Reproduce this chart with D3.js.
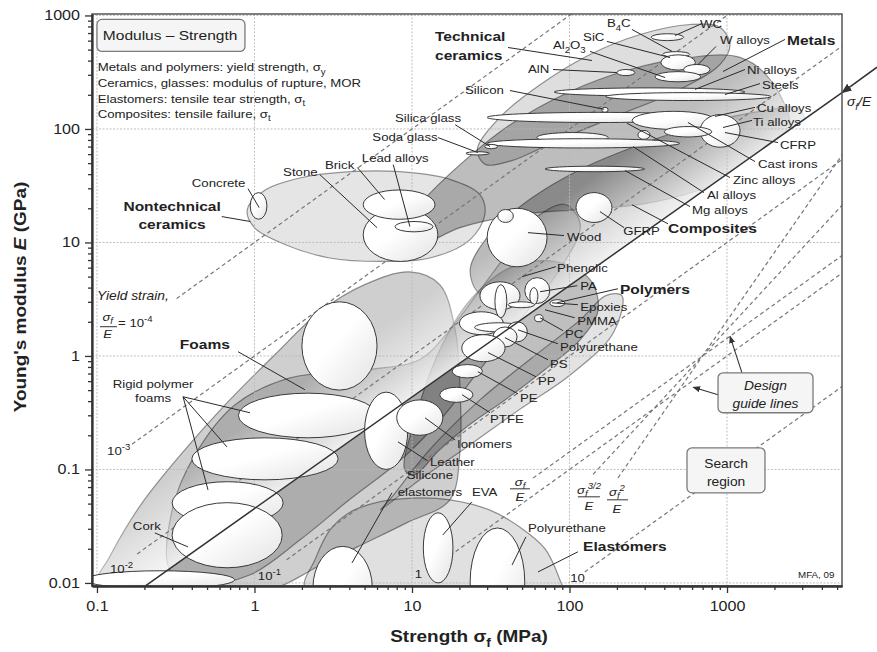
<!DOCTYPE html>
<html>
<head>
<meta charset="utf-8">
<script src="https://cdn.jsdelivr.net/npm/d3@7"></script>
<style>
body { margin: 0; background: #fff; }
svg text { font-family: "Liberation Sans", Arial, Helvetica, sans-serif; fill: #222; }
</style>
</head>
<body>
<svg id="chart" width="877" height="652"></svg>
<script>
//* Modulus - strength chart *//

// axis ticks
const X_TICKS = [0.1, 1, 10, 100, 1000];
const X_TICK_LABELS = ["0.1", "1", "10", "100", "1000"];
const Y_TICKS = [0.01, 0.1, 1, 10, 100, 1000];
const Y_TICK_LABELS = ["0.01", "0.1", "1", "10", "100", "1000"];

// material bubbles: name, strength min, max (MPa), modulus min, max (GPa)
const MATERIALS = [
  ["WC", 330, 530, 600, 690],
  ["B4C", 390, 580, 430, 480],
  ["SiC", 380, 630, 330, 450],
  ["W alloys", 530, 780, 300, 370],
  ["Al2O3", 350, 680, 260, 320],
  ["AlN", 200, 260, 295, 334],
  ["Silicon", 160, 176, 140, 155],
  ["Ni alloys", 80, 1300, 195, 230],
  ["Steels", 170, 1900, 178, 209],
  ["Cu alloys", 30, 780, 114, 140],
  ["Ti alloys", 250, 840, 99, 143],
  ["CFRP", 675, 1210, 69, 134],
  ["Cast irons", 400, 800, 85, 105],
  ["Zinc alloys", 62, 176, 76, 93],
  ["", 272, 324, 81, 97],
  ["Al alloys", 30, 500, 68, 82],
  ["Mg alloys", 70, 300, 42, 47],
  ["Silica glass", 29, 35, 67, 73],
  ["Soda glass", 22, 31, 59, 63],
  ["GFRP", 110, 186, 15, 27.5],
  ["Wood", 30, 72, 6.1, 20],
  ["", 35, 44, 15, 19.5],
  ["Stone", 4.9, 14.6, 6.8, 20],
  ["Brick", 4.9, 14, 16, 29],
  ["Lead alloys", 7.8, 13.6, 12.4, 15.3],
  ["Concrete", 0.94, 1.2, 16, 27.5],
  ["", 2.0, 6.0, 0.5, 3.0],
  ["Rigid foam 1", 0.79, 6.0, 0.19, 0.47],
  ["Rigid foam 2", 0.4, 3.4, 0.081, 0.19],
  ["Rigid foam 3", 0.3, 1.52, 0.033, 0.078],
  ["Cork", 0.3, 1.5, 0.0136, 0.051],
  ["", 0.084, 0.75, 0.0089, 0.0128],
  ["Leather", 5, 9.4, 0.1, 0.48],
  ["Ionomers", 8, 15.7, 0.2, 0.41],
  ["Phenolic", 27, 48.5, 2.55, 4.5],
  ["", 52, 75, 2.9, 4.9],
  ["", 20, 38, 1.54, 2.45],
  ["", 33.6, 40, 2.17, 4.25],
  ["PA", 56, 63, 2.83, 4.0],
  ["", 40.7, 60, 2.66, 3.0],
  ["Epoxies", 75, 93.5, 2.72, 3.13],
  ["PC", 60, 68, 2.0, 2.31],
  ["PMMA", 25, 50.7, 1.63, 1.96],
  ["Polyurethane", 40, 54, 1.33, 2.0],
  ["PS", 32.7, 46.5, 1.2, 1.8],
  ["PP", 20.7, 39, 0.89, 1.54],
  ["PE", 18, 28, 0.64, 0.84],
  ["PTFE", 15, 24.4, 0.39, 0.53],
  ["Silicone elastomers", 2.35, 5.6, 0.0039, 0.021],
  ["EVA", 11.8, 18.2, 0.01, 0.0415],
  ["Polyurethane elastomer", 23.4, 52, 0.0034, 0.0305],
];

// family envelopes, [strength, modulus] outline points
const NONTECH_CERAMICS = [[0.9,19.5],[1.17,29],[1.94,37],[4.04,42],[8.4,42],[17.4,36],[27,26.4],[29,17.6],[23.4,10.6],[13,7.3],[6.3,6.8],[3.0,7.3],[1.56,9.6],[1.0,13.5]];
const TECH_CERAMICS = [[26,66],[36,126],[65,245],[135,453],[281,680],[582,832],[904,783],[1045,555],[904,370],[504,223],[209,134],[87,81],[42,52],[29,49]];
const FOAMS = [[0.097,0.009],[0.121,0.0173],[0.19,0.049],[0.34,0.135],[0.65,0.37],[1.35,1.03],[2.6,2.45],[5.0,4.25],[9.7,5.5],[15,4.25],[18.8,1.7],[20.2,0.5],[20.2,0.149],[17.4,0.054],[9.3,0.034],[4.5,0.0208],[2.5,0.0138],[1.25,0.0087],[0.45,0.0087],[0.19,0.0083]];
const NATURAL = [[0.29,0.013],[0.3,0.044],[0.42,0.135],[0.75,0.37],[1.68,0.64],[5.4,0.76],[11.2,0.93],[17.4,1.7],[27,3.8],[42,8.6],[65,17.6],[94,21.6],[117,14.4],[87,5.8],[48.5,2.08],[27,0.76],[15,0.27],[8.4,0.12],[4.0,0.054],[1.95,0.024],[0.94,0.0118],[0.45,0.0097]];
const POLYMERS_OUTER = [[7.2,0.054],[13,0.15],[27,0.41],[56,0.93],[117,2.08],[170,3.4],[215,3.4],[190,1.6],[101,0.68],[48.5,0.34],[23.4,0.165],[11.2,0.081],[6.3,0.044]];
const POLYMERS = [[9.0,0.099],[10.4,0.27],[15,1.13],[23.4,3.1],[42,6.0],[81,6.8],[135,4.7],[152,2.55],[117,1.39],[70,0.76],[39,0.41],[23.4,0.25],[15,0.15],[10.4,0.09]];
const COMPOSITES = [[23.4,5.8],[31,11.7],[56,24],[117,44],[281,73],[675,109],[1620,143],[2910,148],[2910,54],[904,19.5],[281,7.8],[117,3.8],[48.5,3.1],[27,3.5]];
const METALS = [[7.8,10.6],[11.2,21.6],[20.2,48.5],[42,109],[101,214],[242,334],[582,427],[1210,427],[1875,273],[2510,99],[1620,48.5],[675,29],[281,21.6],[117,19.5],[48.5,17.6],[20.2,13.5],[11.2,9.6]];
const ELASTOMERS = [[2.09,0.009],[2.42,0.016],[3.0,0.029],[4.04,0.042],[6.3,0.052],[10.1,0.056],[17.4,0.054],[31,0.044],[48.5,0.031],[70,0.02],[87,0.0106],[94,0.0072],[60,0.005],[5,0.005]];

// sigma_f/E limit line with arrow outside the frame
const LIMIT_LINE = [[0.2, 0.0093], [5370, 209], [8960, 350]];

// yield strain lines: strain, strength where the dashes start
const STRAINS = [1e-4, 1e-3, 1e-2, 1e-1, 1, 10];
const STRAIN_START = [0.32, 0.167, 0.18, 1.6, 12.5, 125];
const STRAIN_LABELS = [["10^{-3}", 0.116, 0.135], ["10^{-2}", 0.121, 0.0122], ["10^{-1}", 1.05, 0.0106], ["1", 10.4, 0.0111], ["10", 101, 0.0102]];

// design guide lines E = (sigma/700)^n through the pivot
const GUIDE_PIVOT = [700, 1];
const GUIDE_EXP = [1, 1.5, 2];
const GUIDE_START = [58.7, 141, 203];

// labels: text, strength, modulus, kind, anchor, leader (s0, E0, s1, E1)
const LABELS = [
  ["Concrete", 0.40, 31, "m", "start", 0.91, 29.8, 1.07, 20.3],
  ["Nontechnical", 0.30, 19.1, "b", "middle", 0.62, 16.9, 0.94, 15.3],
  ["ceramics", 0.30, 13.2, "b", "middle"],
  ["Stone", 1.52, 38.8, "m", "start", 2.6, 39.6, 6.0, 13.5],
  ["Brick", 2.8, 44.8, "m", "start", 4.5, 45.7, 6.7, 23.9],
  ["Lead alloys", 4.8, 51.6, "m", "start", 7.6, 48.5, 9.7, 13.8],
  ["Silica glass", 7.8, 116, "m", "start", 18.8, 109, 31.3, 70],
  ["Soda glass", 5.6, 79, "m", "start", 14.6, 84, 26.2, 62],
  ["Silicon", 21.7, 205, "m", "start", 41.9, 218, 166, 149],
  ["AlN", 54.5, 314, "m", "start", 78.5, 334, 200, 314],
  ["Al_{2}O_{3}", 78.5, 502, "m", "start", 135, 482, 404, 284],
  ["SiC", 122, 590, "m", "start", 173, 590, 435, 426],
  ["B_{4}C", 173, 785, "m", "start", 249, 753, 448, 482],
  ["WC", 674, 769, "m", "start", 694, 849, 468, 666],
  ["W alloys", 903, 566, "m", "start", 851, 533, 655, 370],
  ["Metals", 2404, 545, "b", "start", 2336, 615, 944, 321],
  ["Technical", 14, 590, "b", "start", 40.7, 522, 139, 401],
  ["ceramics", 14, 401, "b", "start"],
  ["Ni alloys", 1340, 302, "m", "start", 1301, 334, 626, 223],
  ["Steels", 1667, 227, "m", "start", 1620, 251, 971, 201],
  ["Cu alloys", 1549, 140, "m", "start", 1506, 155, 839, 129],
  ["Ti alloys", 1462, 107, "m", "start", 1442, 119, 944, 103],
  ["CFRP", 2170, 67.2, "m", "start", 2108, 75.9, 971, 93],
  ["Cast irons", 1574, 45.7, "m", "start", 1506, 51.6, 565, 114],
  ["Zinc alloys", 1092, 33, "m", "start", 1045, 37.3, 232, 112],
  ["Al alloys", 746, 24.3, "m", "start", 714, 27.5, 253, 70],
  ["Mg alloys", 600, 17.9, "m", "start", 582, 20.7, 225, 43],
  ["Composites", 422, 12.2, "b", "start", 422, 14.6, 249, 21.5],
  ["GFRP", 219, 11.7, "m", "start", 222, 13.5, 156, 18.7],
  ["Wood", 96.4, 10.2, "m", "start", 92.3, 11.5, 54.5, 12.2],
  ["Phenolic", 83.4, 5.53, "m", "start", 82, 6.12, 49.9, 4.99],
  ["PA", 117, 3.84, "m", "start", 112, 4.16, 65, 3.68],
  ["Polymers", 209, 3.53, "b", "start", 203, 3.91, 83.4, 2.94],
  ["Epoxies", 117, 2.5, "m", "start", 113, 2.83, 77.4, 2.94],
  ["PMMA", 112, 1.88, "m", "start", 108, 2.17, 69.9, 2.55],
  ["PC", 93.6, 1.45, "m", "start", 91, 1.67, 65, 2.17],
  ["Polyurethane", 87, 1.11, "m", "start", 84.5, 1.28, 47.1, 1.7],
  ["PS", 75.2, 0.787, "m", "start", 73, 0.925, 38.9, 1.45],
  ["PP", 63.1, 0.557, "m", "start", 61.3, 0.656, 30.4, 1.07],
  ["PE", 48.5, 0.395, "m", "start", 47.1, 0.464, 26.2, 0.726],
  ["PTFE", 31.3, 0.258, "m", "start", 31.3, 0.316, 20.8, 0.455],
  ["Ionomers", 19.3, 0.155, "m", "start", 18.8, 0.182, 12.1, 0.285],
  ["Leather", 13, 0.108, "m", "start", 12.6, 0.119, 8.15, 0.175],
  ["Silicone", 13, 0.0826, "m", "middle", 7.46, 0.0622, 4.16, 0.015],
  ["elastomers", 13, 0.0585, "m", "middle"],
  ["EVA", 24, 0.0585, "m", "start", 24, 0.0518, 15.7, 0.0265],
  ["Polyurethane", 54.5, 0.0282, "m", "start", 52.9, 0.0255, 43.2, 0.0144],
  ["Elastomers", 122, 0.0191, "b", "start", 113, 0.0188, 63.1, 0.0125],
  ["Foams", 0.336, 1.16, "b", "start", 0.786, 1.09, 2.09, 0.504],
  ["Rigid polymer", 0.227, 0.525, "m", "middle", 0.352, 0.437, 0.936, 0.316],
  ["foams", 0.227, 0.395, "m", "middle", 0.352, 0.437, 0.669, 0.158],
  ["Cork", 0.169, 0.0293, "m", "start", 0.233, 0.0276, 0.378, 0.0208],
];
const EXTRA_LEADERS = [[0.352, 0.437, 0.507, 0.066]];

const NOTE_LINES = [
  "Metals and polymers: yield strength, σ_{y}",
  "Ceramics, glasses: modulus of rupture, MOR",
  "Elastomers: tensile tear strength, σ_{t}",
  "Composites: tensile failure, σ_{t}",
];
const NOTE_BASE = [321, 232, 171, 126];

const SX = 1.15;   // the reference type is a bit wide

const svg = d3.select('#chart');
const x = d3.scaleLog().domain([0.093, 5370]).range([92, 842]);
const y = d3.scaleLog().domain([0.0094, 1030]).range([586, 14]);
const L = x.range()[0], R = x.range()[1], T = y.range()[1], B = y.range()[0];

const defs = svg.append('defs');
defs.append('clipPath').attr('id', 'plotClip')
  .append('rect').attr('x', L).attr('y', T).attr('width', R - L).attr('height', B - T);

// half plane above the sigma_f/E line
const limitE = s => LIMIT_LINE[0][1] * Math.pow(s / LIMIT_LINE[0][0],
  Math.log10(LIMIT_LINE[1][1] / LIMIT_LINE[0][1]) / Math.log10(LIMIT_LINE[1][0] / LIMIT_LINE[0][0]));
const p1 = [x(0.01), y(limitE(0.01))], p2 = [x(1e5), y(limitE(1e5))];
defs.append('clipPath').attr('id', 'aboveClip')
  .append('polygon').attr('points', [p1, p2, [p2[0], -5000], [p1[0], -5000]].map(p => p.join(',')).join(' '));

// white sheen along the limit line
const a0 = [x(LIMIT_LINE[0][0]), y(LIMIT_LINE[0][1])], a1 = [x(LIMIT_LINE[1][0]), y(LIMIT_LINE[1][1])];
const len = Math.hypot(a1[0] - a0[0], a1[1] - a0[1]);
const nrm = [(a1[1] - a0[1]) / len, -(a1[0] - a0[0]) / len];   // points up-left
const sheen = defs.append('linearGradient').attr('id', 'sheen').attr('gradientUnits', 'userSpaceOnUse')
  .attr('x1', a0[0]).attr('y1', a0[1]).attr('x2', a0[0] + nrm[0] * 75).attr('y2', a0[1] + nrm[1] * 75);
sheen.append('stop').attr('offset', 0).attr('stop-color', '#fff').attr('stop-opacity', 0.8);
sheen.append('stop').attr('offset', 1).attr('stop-color', '#fff').attr('stop-opacity', 0);

const bub = defs.append('linearGradient').attr('id', 'bub').attr('x1', 0).attr('y1', 0).attr('x2', 1).attr('y2', 1);
bub.append('stop').attr('offset', 0.45).attr('stop-color', '#fff');
bub.append('stop').attr('offset', 1).attr('stop-color', '#e2e2e2');

defs.append('marker').attr('id', 'arr').attr('viewBox', '0 0 10 10').attr('refX', 9).attr('refY', 5)
  .attr('markerWidth', 7).attr('markerHeight', 7).attr('orient', 'auto-start-reverse')
  .append('path').attr('d', 'M0,1 L10,5 L0,9 z').attr('fill', '#333');

// rich text: _{sub} and ^{sup}
function rich(t, str, fs) {
  const parts = str.split(/(_\{[^}]*\}|\^\{[^}]*\})/).filter(p => p);
  let shift = 0;
  parts.forEach(p => {
    let target = 0, txt = p, size = null;
    if (p.startsWith('_{')) { target = fs * 0.3; txt = p.slice(2, -1); size = fs * 0.72; }
    else if (p.startsWith('^{')) { target = -fs * 0.42; txt = p.slice(2, -1); size = fs * 0.72; }
    const ts = t.append('tspan').attr('dy', target - shift).text(txt);
    if (size) ts.attr('font-size', size);
    shift = target;
  });
}

function addText(g, px, py, str, o = {}) {
  const fs = o.size || 11.5;
  const t = g.append('text')
    .attr('transform', `translate(${px},${py})${o.rotate ? ' rotate(' + o.rotate + ')' : ''} scale(${SX},1)`)
    .attr('font-size', fs)
    .attr('font-weight', o.bold ? 'bold' : null)
    .attr('font-style', o.italic ? 'italic' : null)
    .attr('text-anchor', o.anchor || 'start');
  rich(t, str, fs);
  return t;
}

function frac(g, s, eNum, eBar, eDen, s0, s1, num, den) {
  addText(g, x(s), y(eNum), num, {size: 11.5, italic: true, anchor: 'middle'});
  g.append('line').attr('x1', x(s0)).attr('x2', x(s1)).attr('y1', y(eBar)).attr('y2', y(eBar))
    .attr('stroke', '#333').attr('stroke-width', 1);
  addText(g, x(s), y(eDen), den, {size: 11.5, italic: true, anchor: 'middle'});
}

// envelopes
const plot = svg.append('g').attr('clip-path', 'url(#plotClip)');
const outline = d3.line().x(d => x(d[0])).y(d => y(d[1])).curve(d3.curveCatmullRomClosed.alpha(0.5));

function envelope(g, pts, alpha) {
  g.append('path').attr('d', outline(pts))
    .attr('fill', `rgba(0,0,0,${alpha})`)
    .attr('stroke', 'rgba(0,0,0,0.4)').attr('stroke-width', 1.2);
}

const env = plot.append('g');
envelope(env, NONTECH_CERAMICS, 0.10);
envelope(env, FOAMS, 0.19);
envelope(env, NATURAL, 0.16);
envelope(env, POLYMERS_OUTER, 0.11);
envelope(env, POLYMERS, 0.25);
const envAbove = env.append('g').attr('clip-path', 'url(#aboveClip)');
envelope(envAbove, TECH_CERAMICS, 0.13);
envelope(envAbove, METALS, 0.26);
envelope(envAbove, COMPOSITES, 0.27);
envAbove.append('rect').attr('x', L).attr('y', T).attr('width', R - L).attr('height', B - T)
  .attr('fill', 'url(#sheen)');
envelope(env, ELASTOMERS, 0.12);

// grid
const grid = plot.append('g').attr('stroke', '#b9b9b9').attr('stroke-width', 0.9).attr('stroke-dasharray', '2,1.5');
grid.selectAll('.gx').data(X_TICKS).join('line')
  .attr('x1', d => x(d)).attr('x2', d => x(d)).attr('y1', T).attr('y2', B);
grid.selectAll('.gy').data(Y_TICKS).join('line')
  .attr('y1', d => y(d)).attr('y2', d => y(d)).attr('x1', L).attr('x2', R);

// strain guide lines
const guides = plot.append('g').attr('stroke', '#777').attr('stroke-width', 1.2)
  .attr('stroke-dasharray', '4,3').attr('fill', 'none');
STRAINS.forEach((eps, i) => {
  const s0 = STRAIN_START[i], s1 = 1e5;
  guides.append('line')
    .attr('x1', x(s0)).attr('y1', y(s0 / (1000 * eps)))
    .attr('x2', x(s1)).attr('y2', y(s1 / (1000 * eps)));
});
GUIDE_EXP.forEach((n, i) => {
  const eAt = s => GUIDE_PIVOT[1] * Math.pow(s / GUIDE_PIVOT[0], n);
  const s0 = GUIDE_START[i], s1 = 1e5;
  guides.append('line')
    .attr('x1', x(s0)).attr('y1', y(eAt(s0)))
    .attr('x2', x(s1)).attr('y2', y(eAt(s1)));
});

// material bubbles
plot.append('g').selectAll('ellipse').data(MATERIALS).join('ellipse')
  .attr('cx', d => (x(d[1]) + x(d[2])) / 2)
  .attr('cy', d => (y(d[3]) + y(d[4])) / 2)
  .attr('rx', d => (x(d[2]) - x(d[1])) / 2)
  .attr('ry', d => (y(d[3]) - y(d[4])) / 2)
  .attr('fill', 'url(#bub)').attr('stroke', '#3a3a3a').attr('stroke-width', 1);

// sigma_f/E limit line
svg.append('line')
  .attr('x1', x(LIMIT_LINE[0][0])).attr('y1', y(LIMIT_LINE[0][1]))
  .attr('x2', x(LIMIT_LINE[1][0])).attr('y2', y(LIMIT_LINE[1][1]))
  .attr('stroke', '#333').attr('stroke-width', 1.5);
svg.append('line')
  .attr('x1', x(LIMIT_LINE[2][0])).attr('y1', y(LIMIT_LINE[2][1]))
  .attr('x2', x(LIMIT_LINE[1][0])).attr('y2', y(LIMIT_LINE[1][1]))
  .attr('stroke', '#333').attr('stroke-width', 1.5).attr('marker-end', 'url(#arr)');
addText(svg, x(5780), y(158), "σ_{f}/E", {size: 12, italic: true});

// leaders and labels
const ann = svg.append('g');
const leaders = ann.append('g').attr('stroke', '#2a2a2a').attr('stroke-width', 1);
LABELS.filter(d => d.length > 5).forEach(d => {
  leaders.append('line').attr('x1', x(d[5])).attr('y1', y(d[6])).attr('x2', x(d[7])).attr('y2', y(d[8]));
});
EXTRA_LEADERS.forEach(d => {
  leaders.append('line').attr('x1', x(d[0])).attr('y1', y(d[1])).attr('x2', x(d[2])).attr('y2', y(d[3]));
});
LABELS.forEach(d => {
  addText(ann, x(d[1]), y(d[2]), d[0], d[3] === 'b'
    ? {size: 13.5, bold: true, anchor: d[4]}
    : {size: 11.5, anchor: d[4]});
});

// strain labels
addText(ann, x(0.1), y(3.13), "Yield strain,", {size: 12, italic: true});
frac(ann, 0.117, 2.05, 1.81, 1.45, 0.1045, 0.134, "σ_{f}", "E");
addText(ann, x(0.136), y(1.8), "= 10^{-4}", {size: 11.5});
STRAIN_LABELS.forEach(d => addText(ann, x(d[1]), y(d[2]), d[0], {size: 11.5}));

// design guide labels
frac(ann, 48.5, 0.0717, 0.0675, 0.0529, 41.9, 56.1, "σ_{f}", "E");
frac(ann, 133, 0.061, 0.0574, 0.044, 113, 156, "σ_{f}^{3/2}", "E");
frac(ann, 200, 0.0585, 0.054, 0.0414, 173, 235, "σ_{f}^{2}", "E");

function box(g, s0, s1, e0, e1) {
  g.append('rect').attr('x', x(s0)).attr('y', y(e0)).attr('width', x(s1) - x(s0)).attr('height', y(e1) - y(e0))
    .attr('rx', 5).attr('fill', '#f5f5f5').attr('stroke', '#7a7a7a').attr('stroke-width', 1.3);
}

// design guide box and arrows
ann.append('line').attr('x1', x(1245)).attr('y1', y(0.71)).attr('x2', x(1045)).attr('y2', y(1.49))
  .attr('stroke', '#333').attr('stroke-width', 1.1).attr('marker-end', 'url(#arr)');
ann.append('line').attr('x1', x(877)).attr('y1', y(0.455)).attr('x2', x(610)).attr('y2', y(0.53))
  .attr('stroke', '#333').attr('stroke-width', 1.1).attr('marker-end', 'url(#arr)');
box(ann, 877, 3515, 0.71, 0.316);
addText(ann, x(1755), y(0.503), "Design", {size: 12, italic: true, anchor: 'middle'});
addText(ann, x(1755), y(0.35), "guide lines", {size: 12, italic: true, anchor: 'middle'});

box(ann, 557, 1742, 0.155, 0.0622);
addText(ann, x(986), y(0.103), "Search", {size: 12, anchor: 'middle'});
addText(ann, x(986), y(0.0716), "region", {size: 12, anchor: 'middle'});

// title box and notes
box(ann, 0.1, 0.87, 923, 482);
addText(ann, x(0.109), y(602), "Modulus – Strength", {size: 13.5});
NOTE_LINES.forEach((t, i) => addText(ann, x(0.101), y(NOTE_BASE[i]), t, {size: 11.5}));
addText(ann, x(2825), y(0.0111), "MFA, 09", {size: 8.5});

// frame and axes
svg.append('rect').attr('x', L).attr('y', T).attr('width', R - L).attr('height', B - T)
  .attr('fill', 'none').attr('stroke', '#555').attr('stroke-width', 1.5);

const minorX = [], minorY = [];
X_TICKS.forEach(d => { for (let k = 2; k <= 9; k++) if (k * d < x.domain()[1]) minorX.push(k * d); });
Y_TICKS.forEach(d => { for (let k = 2; k <= 9; k++) if (k * d < y.domain()[1]) minorY.push(k * d); });

function stretchText(g) {
  g.selectAll('text').each(function () {
    const t = d3.select(this);
    const tx = +t.attr('x') || 0, ty = +t.attr('y') || 0;
    t.attr('transform', `translate(${tx},${ty}) scale(${SX},1)`).attr('x', 0).attr('y', 0);
  });
}

const xAxis = svg.append('g').attr('transform', `translate(0,${B})`);
xAxis.append('g').call(d3.axisBottom(x).tickValues(minorX).tickSize(4).tickSizeOuter(0).tickFormat(''));
xAxis.append('g').call(d3.axisBottom(x).tickValues(X_TICKS).tickSize(7).tickSizeOuter(0).tickPadding(8)
  .tickFormat((d, i) => X_TICK_LABELS[i]));
const yAxis = svg.append('g').attr('transform', `translate(${L},0)`);
yAxis.append('g').call(d3.axisLeft(y).tickValues(minorY).tickSize(4).tickSizeOuter(0).tickFormat(''));
yAxis.append('g').call(d3.axisLeft(y).tickValues(Y_TICKS).tickSize(7).tickSizeOuter(0).tickPadding(5)
  .tickFormat((d, i) => Y_TICK_LABELS[i]));
svg.selectAll('.domain').attr('stroke', '#333').attr('stroke-width', 1.8);
svg.selectAll('.tick line').attr('stroke', '#333').attr('stroke-width', 1.3);
svg.selectAll('.tick text').attr('font-size', 14).attr('fill', '#222')
  .attr('font-family', '"Liberation Sans", Arial, Helvetica, sans-serif');
stretchText(xAxis);
stretchText(yAxis);

// axis titles
addText(svg, 469, 642, "Strength σ_{f} (MPa)", {size: 16.5, bold: true, anchor: 'middle'});
const yt = addText(svg, 26, 297, "", {size: 16.5, bold: true, anchor: 'middle', rotate: -90});
yt.append('tspan').text("Young's modulus ");
yt.append('tspan').attr('font-style', 'italic').text("E");
yt.append('tspan').text(" (GPa)");
</script>
</body>
</html>
